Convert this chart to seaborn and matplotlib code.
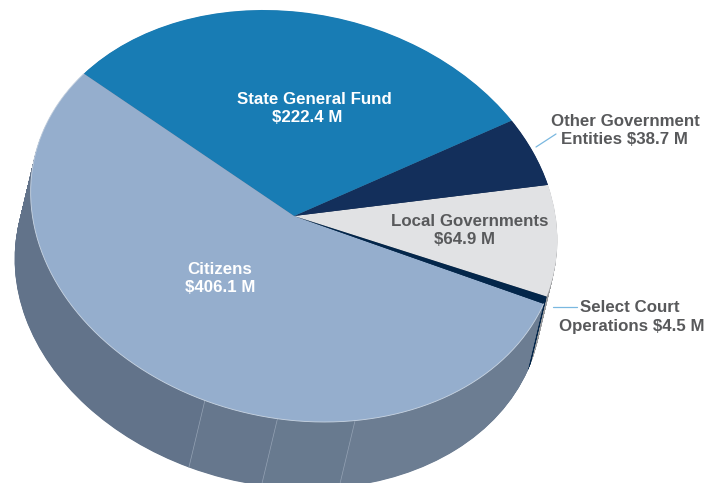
import numpy as np
import seaborn as sns
import matplotlib.pyplot as plt
from matplotlib.transforms import Affine2D

# Data, counterclockwise from the Local Governments slice
sources = ['Local Governments', 'Other Government Entities', 'State General Fund', 'Citizens', 'Select Court Operations']
amounts = [64.9, 38.7, 222.4, 406.1, 4.5]
top_colors = ['#e1e2e4', '#132f5b', '#187cb4', '#95aecd', '#03264a']

# the rim of the Citizens slice is broken into facets in the original
side_amounts = [64.9, 38.7, 222.4, 219.5, 33.1, 34.8, 118.7, 4.5]
side_colors = ['#9a9b9d', '#0e2344', '#62738a', '#62738a', '#66778d', '#687a8f', '#6c7d92', '#03264a']
seam_after = [3, 4, 5]

label_lines = ['State General Fund', '$222.4 M', 'Citizens', '$406.1 M', 'Local Governments', '$64.9 M',
               'Other Government', 'Entities $38.7 M', 'Select Court', 'Operations $4.5 M']
label_x = [314, 307, 220, 220, 470, 465, 625, 624, 630, 632]
label_y = [100, 118, 269, 287, 221, 240, 121, 140, 307, 326]
label_colors = ['white'] * 4 + ['#58595b'] * 6

# Ellipse of the pie top, in pixels
cx, cy = 294, 216
rx, ry = 266, 202.6
tilt = -12.5
depth_x, depth_y = -16, 67
start = -6.8

sns.set_theme(style='white')
plt.rcParams['font.family'] = ['Liberation Sans', 'DejaVu Sans']

fig = plt.figure(figsize=(7.21, 4.83), dpi=100)
ax = fig.add_axes([0, 0, 1, 1])


def disc(dx=0.0, dy=0.0):
    return Affine2D().scale(rx, ry).rotate_deg(tilt).scale(1, -1).translate(cx + dx, cy + dy)


def rim_point(theta, dx=0.0, dy=0.0):
    t = np.radians(theta)
    return disc(dx, dy).transform(np.column_stack([np.cos(t), np.sin(t)]))


# side of the cylinder: stacked copies of the pie, bottom one first
steps = abs(depth_y) * 2
for i in range(steps, 0, -1):
    f = i / steps
    wedges, _ = ax.pie(side_amounts, colors=side_colors, startangle=start, counterclock=True,
                       wedgeprops={'linewidth': 0})
    for w in wedges:
        w.set_transform(disc(depth_x * f, depth_y * f) + ax.transData)
side_wedges = wedges

# faint seams between the facets
for i in seam_after:
    theta = np.array([side_wedges[i].theta2])
    top = rim_point(theta)[0]
    low = rim_point(theta, depth_x, depth_y)[0]
    ax.plot([top[0], low[0]], [top[1], low[1]], color='#95a3b5', lw=0.5, zorder=1.5)

# top of the pie
wedges, _ = ax.pie(amounts, colors=top_colors, startangle=start, counterclock=True,
                   wedgeprops={'linewidth': 0, 'zorder': 2})
for w in wedges:
    w.set_transform(disc() + ax.transData)

# light edge where the Citizens top meets the side
rim = rim_point(np.linspace(wedges[3].theta1, wedges[3].theta2, 200))
ax.plot(rim[:, 0], rim[:, 1], color='#c9d5e3', lw=0.6, zorder=2.5)

# leader lines
ax.plot([536, 556], [147, 134], color='#7ab8e0', lw=0.9, zorder=3)
ax.plot([553, 577], [307, 307], color='#7ab8e0', lw=0.9, zorder=3)

for s, x, y, c in zip(label_lines, label_x, label_y, label_colors):
    ax.text(x, y, s, color=c, fontsize=12.2, fontweight='bold', ha='center', va='center', zorder=4)

ax.set_aspect('auto')
ax.set_xlim(0, 721)
ax.set_ylim(483, 0)
ax.axis('off')

plt.savefig('out.png', dpi=100)
